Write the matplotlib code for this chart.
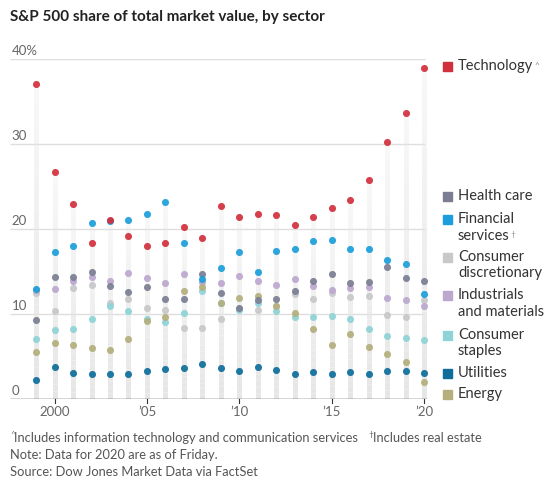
import matplotlib
matplotlib.use("Agg")
import matplotlib.pyplot as plt
import numpy as np
from matplotlib.collections import LineCollection

plt.rcParams['font.family'] = ['Lato', 'DejaVu Sans']

years = list(range(1999, 2021))
technology = [37.1, 26.7, 23.0, 18.4, 21.1, 19.2, 18.0, 18.4, 20.2, 18.9, 22.7, 21.45, 21.8, 21.6, 20.5, 21.45, 22.5, 23.4, 25.8, 30.2, 33.6, 38.9]
health_care = [9.3, 14.35, 14.35, 14.9, 13.25, 12.6, 13.2, 11.8, 11.8, 14.7, 12.5, 10.7, 11.6, 11.8, 12.7, 13.9, 14.7, 13.6, 13.8, 15.5, 14.2, 13.9]
financial = [12.9, 17.3, 18.0, 20.7, 20.9, 21.1, 21.8, 23.2, 18.4, 14.1, 15.4, 17.3, 15.0, 17.45, 17.7, 18.6, 18.7, 17.6, 17.6, 16.3, 15.9, 12.3]
consumer_disc = [12.5, 10.3, 13.1, 13.4, 11.3, 11.8, 10.7, 10.5, 8.4, 8.3, 9.45, 10.6, 10.5, 10.9, 12.3, 11.8, 12.5, 12.0, 12.15, 9.9, 9.7, 11.7]
industrials = [12.8, 12.9, 13.9, 14.3, 13.9, 14.8, 14.2, 13.6, 14.7, 13.8, 13.7, 14.5, 13.9, 13.45, 14.15, 13.25, 12.8, 13.1, 13.2, 11.9, 11.7, 11.0]
staples = [7.1, 8.1, 8.2, 9.4, 11.0, 10.4, 9.4, 9.1, 10.1, 12.7, 11.3, 10.5, 11.3, 10.4, 9.6, 9.6, 9.8, 9.4, 8.2, 7.4, 7.2, 7.0]
utilities = [2.2, 3.8, 3.1, 2.9, 2.9, 2.95, 3.3, 3.5, 3.6, 4.1, 3.7, 3.25, 3.8, 3.4, 2.9, 3.2, 2.95, 3.2, 2.95, 3.3, 3.3, 3.05]
energy = [5.5, 6.55, 6.3, 5.95, 5.8, 7.1, 9.2, 9.7, 12.7, 13.2, 11.3, 11.85, 12.1, 10.9, 10.1, 8.2, 6.3, 7.6, 6.1, 5.3, 4.35, 2.0]

series_names = ["Technology", "Health care", "Financial\nservices", "Consumer\ndiscretionary",
                "Industrials\nand materials", "Consumer\nstaples", "Utilities", "Energy"]
series_values = [technology, health_care, financial, consumer_disc, industrials, staples, utilities, energy]
colors = ["#d12f3c", "#7b7e93", "#1b9edb", "#c6c8ca", "#bca7cf", "#8fd3d6", "#0d6e9b", "#b4af7d"]

y_ticks = [0, 10, 20, 30, 40]
y_tick_labels = ["0", "10", "20", "30", "40%"]
x_ticks = [2000, 2005, 2010, 2015, 2020]
x_tick_labels = ["2000", "\u201905", "\u201910", "\u201915", "\u201920"]

W, H = 557, 488
fig = plt.figure(figsize=(W / 100, H / 100), dpi=100)
ax = fig.add_axes([10 / W, (H - 399) / H, (427 - 10) / W, 340 / H])
ax.set_xlim(1997.59, 2020.15)
ax.set_ylim(0, 40)
for s in ax.spines.values():
    s.set_visible(False)
ax.set_yticks([])
ax.set_xticks([])

# gridlines
for t in y_ticks[1:]:
    ax.plot([1997.59, 2020.05], [t, t], color="#dedede", lw=1, zorder=0, solid_capstyle='butt')
for t, lab in zip(y_ticks, y_tick_labels):
    ax.text(1997.68, t + 0.95, lab, ha="left", va="center", fontsize=9.5, color="#666666")

# stems with fade
all_vals = np.array(series_values)
tops = all_vals.max(axis=0)
segs, cols = [], []
n = 30
for x, top in zip(years, tops):
    edges = np.linspace(0, top, n + 1)
    for i in range(n):
        segs.append([(x, edges[i]), (x, edges[i + 1])])
        a = 1.0 - 0.75 * (i / n)
        cols.append((0.90, 0.90, 0.90, a))
ax.add_collection(LineCollection(segs, colors=cols, linewidths=3.6, zorder=1, capstyle='butt'))

# baseline
ax.plot([1997.59, 2020.15], [0, 0], color="#333333", lw=1, zorder=2, solid_capstyle='butt')
for t, lab in zip(x_ticks, x_tick_labels):
    ax.plot([t, t], [0, -0.45], color="#333333", lw=0.8, clip_on=False, zorder=2)
    ax.text(t, -0.85, lab, ha="center", va="top", fontsize=9.5, color="#666666")

draw_order = [3, 4, 5, 7, 1, 6, 2, 0]
for i in draw_order:
    ax.scatter(years, series_values[i], s=26, color=colors[i], linewidths=0, zorder=3 + draw_order.index(i),
               alpha=0.92, clip_on=False)

# title
fig.text(10 / W, 1 - 17 / H, "S&P 500 share of total market value, by sector", ha="left", va="center",
         fontsize=11, fontweight="bold", color="#222222")

# legend
leg_y = [66, 196, 219, 257, 295, 335, 373, 394]
sup = {0: "^", 2: "\u2020"}
for i, (name, yy) in enumerate(zip(series_names, leg_y)):
    fig.patches.append(plt.Rectangle(((443) / W, 1 - (yy + 4.5) / H), 9 / W, 9 / H,
                                     transform=fig.transFigure, color=colors[i], figure=fig))
    lines = name.split("\n")
    for k, ln in enumerate(lines):
        t = fig.text(458 / W, 1 - (yy + 16.5 * k) / H, ln, ha="left", va="center", fontsize=10.5, color="#333333")
    if i in sup:
        fig.canvas.draw()
        bb = t.get_window_extent()
        fig.text(bb.x1 / W + 1 / W, bb.y1 / H - 3 / H, sup[i], ha="left", va="top", fontsize=6, color="#888888")

# footnotes
fs = 9.3
fig.text(10 / W, 1 - 434 / H, "^", ha="left", va="center", fontsize=6, color="#777777")
fig.text(14 / W, 1 - 438 / H, "Includes information technology and communication services", ha="left", va="center",
         fontsize=fs, color="#555555")
fig.text(368 / W, 1 - 435 / H, "\u2020", ha="left", va="center", fontsize=6, color="#555555")
fig.text(373 / W, 1 - 438 / H, "Includes real estate", ha="left", va="center", fontsize=fs, color="#555555")
fig.text(10 / W, 1 - 455 / H, "Note: Data for 2020 are as of Friday.", ha="left", va="center", fontsize=fs, color="#555555")
fig.text(10 / W, 1 - 472 / H, "Source: Dow Jones Market Data via FactSet", ha="left", va="center", fontsize=fs,
         color="#555555")

fig.savefig("out.png", dpi=100)
